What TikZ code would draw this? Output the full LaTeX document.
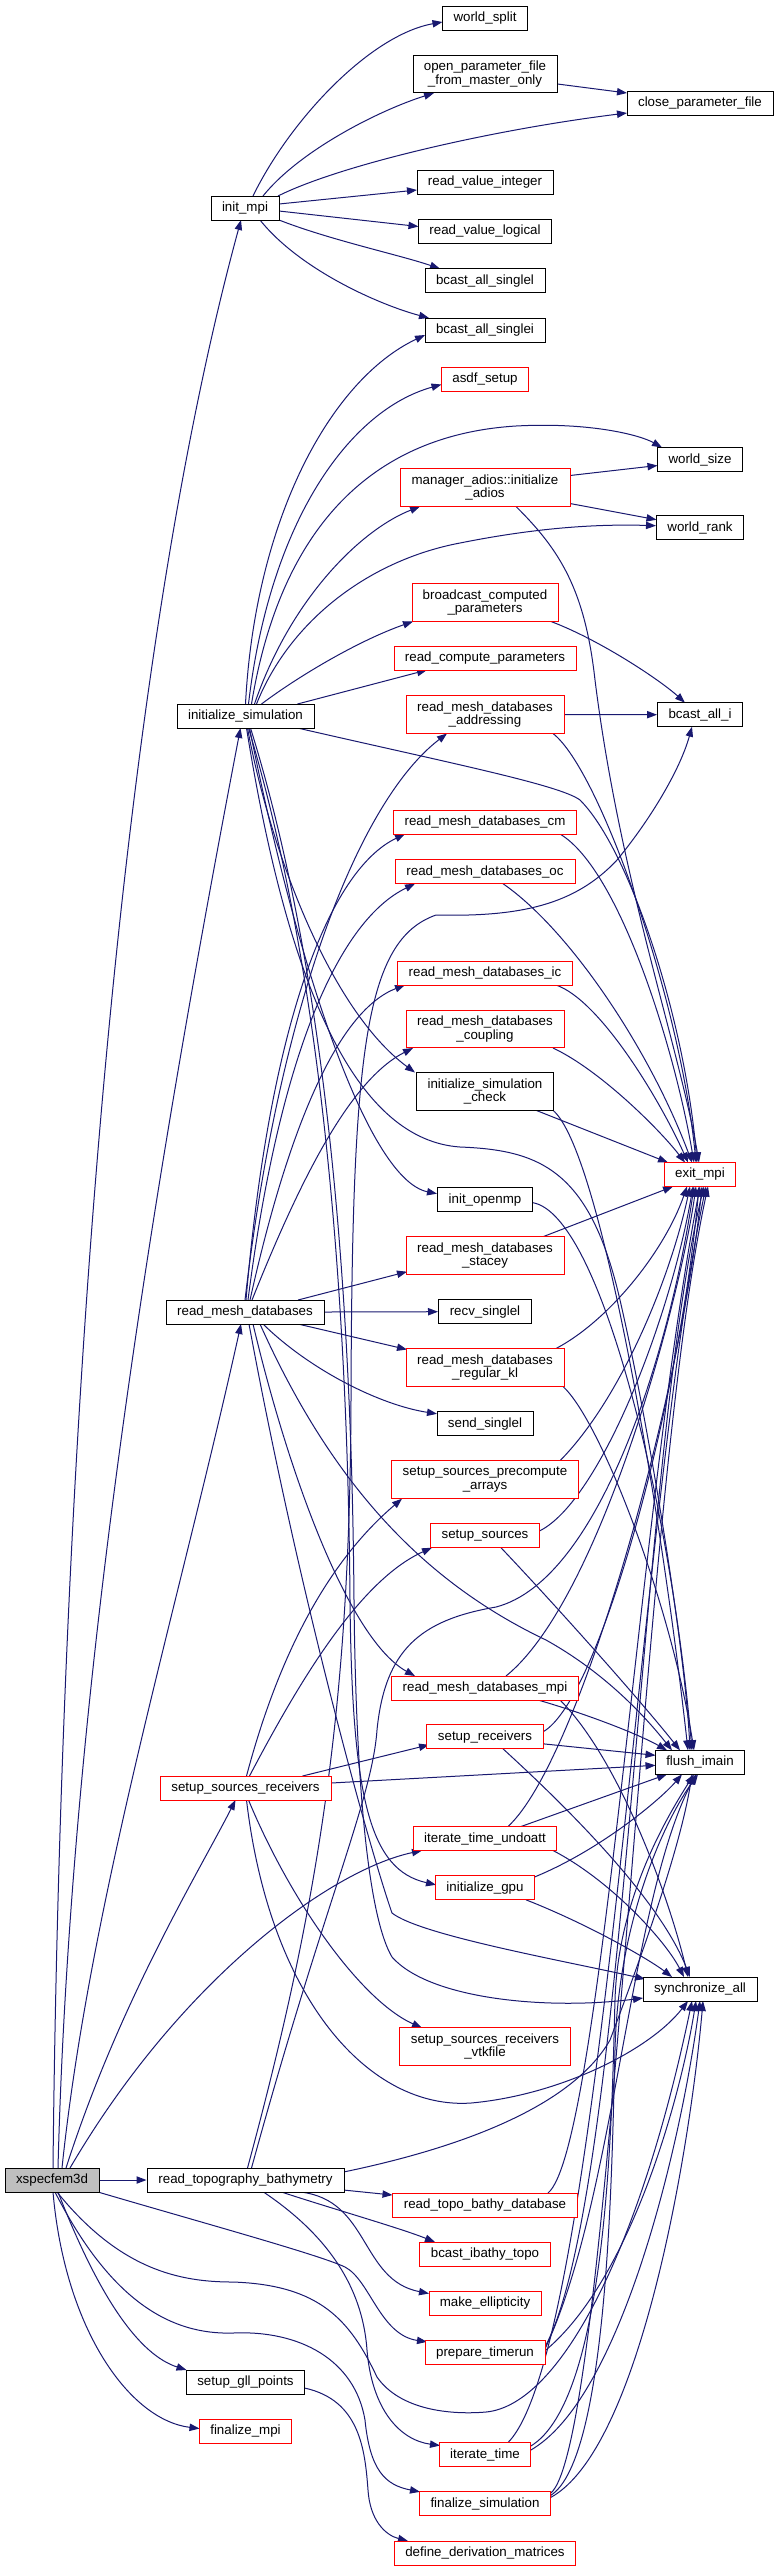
\documentclass[tikz,border=0pt]{standalone}
\usepackage{fontspec}
\setmainfont{Liberation Sans}
\usetikzlibrary{arrows.meta,calc,backgrounds}
\definecolor{eb}{HTML}{191970}
\definecolor{rootgray}{HTML}{BFBFBF}
\begin{document}
\begin{tikzpicture}[x=0.75pt,y=-0.75pt,
 fn/.style={draw=black,line width=0.75pt,fill=white,inner sep=0pt,minimum height=18pt,font=\fontsize{10}{10}\selectfont,align=center},
 rn/.style={fn,draw=red},
 tn/.style={fn,minimum height=28.2pt},
 rtn/.style={rn,minimum height=28.2pt},
 ed/.style={draw=eb,line width=0.75pt,-{Triangle[length=7.5pt,width=5.5pt]}}]
\useasboundingbox (0,0) rectangle (774,2571);
% column A/B
\node[fn,minimum width=70.5pt,fill=rootgray] (xs) at (52,2180) {xspecfem3d};
\node[fn,minimum width=51pt] (im) at (245,208) {init\_mpi};
\node[fn,minimum width=102.75pt] (is) at (245.5,716) {initialize\_simulation};
\node[fn,minimum width=118.5pt] (rmd) at (245,1312) {read\_mesh\_databases};
\node[rn,minimum width=128.25pt] (ssr) at (245.5,1788) {setup\_sources\_receivers};
\node[fn,minimum width=147.75pt] (rtb) at (245.5,2180) {read\_topography\_bathymetry};
\node[fn,minimum width=88.9pt] (sgp) at (245.5,2382) {setup\_gll\_points};
\node[rn,minimum width=69.5pt] (fmpi) at (245.5,2431.5) {finalize\_mpi};
% column C
\node[fn,minimum width=63.75pt] (ws) at (485,18) {world\_split};
\node[tn,minimum width=108pt] (opf) at (485,74) {open\_parameter\_file\\\_from\_master\_only};
\node[fn,minimum width=102pt] (rvi) at (485,182) {read\_value\_integer};
\node[fn,minimum width=99.75pt] (rvl) at (485,231.5) {read\_value\_logical};
\node[fn,minimum width=90pt] (bsl) at (485,280.7) {bcast\_all\_singlel};
\node[fn,minimum width=90pt] (bsi) at (485,330) {bcast\_all\_singlei};
\node[rn,minimum width=65.25pt] (asdf) at (485,379.5) {asdf\_setup};
\node[rtn,minimum width=127.5pt] (ma) at (485,487.5) {manager\_adios::initialize\\\_adios};
\node[rtn,minimum width=109.5pt] (bcp) at (485,602.5) {broadcast\_computed\\\_parameters};
\node[rn,minimum width=136.5pt] (rcp) at (485,658) {read\_compute\_parameters};
\node[rtn,minimum width=118.5pt] (addr) at (485,714.5) {read\_mesh\_databases\\\_addressing};
\node[rn,minimum width=137.25pt] (cm) at (485,822) {read\_mesh\_databases\_cm};
\node[rn,minimum width=135pt] (oc) at (485,871.7) {read\_mesh\_databases\_oc};
\node[rn,minimum width=131.25pt] (ic) at (485,973) {read\_mesh\_databases\_ic};
\node[rtn,minimum width=118.5pt] (coup) at (485,1029) {read\_mesh\_databases\\\_coupling};
\node[tn,minimum width=102.75pt] (isc) at (485,1091.3) {initialize\_simulation\\\_check};
\node[fn,minimum width=71.25pt] (iomp) at (485,1199.7) {init\_openmp};
\node[rtn,minimum width=118.5pt] (stac) at (485,1255.7) {read\_mesh\_databases\\\_stacey};
\node[fn,minimum width=69.75pt] (recv) at (485,1311.7) {recv\_singlel};
\node[rtn,minimum width=118.5pt] (rkl) at (485,1367.5) {read\_mesh\_databases\\\_regular\_kl};
\node[fn,minimum width=72pt] (send) at (485,1423.8) {send\_singlel};
\node[rtn,minimum width=140.25pt] (sspa) at (485,1479.7) {setup\_sources\_precompute\\\_arrays};
\node[rn,minimum width=81.4pt] (ss) at (485,1535.7) {setup\_sources};
\node[rn,minimum width=140.25pt] (mpi) at (485,1688) {read\_mesh\_databases\_mpi};
\node[rn,minimum width=87.4pt] (sr) at (485,1736.8) {setup\_receivers};
\node[rn,minimum width=107.6pt] (ituo) at (485,1838.5) {iterate\_time\_undoatt};
\node[rn,minimum width=74.6pt] (igpu) at (485,1887.8) {initialize\_gpu};
\node[rtn,minimum width=127.9pt] (vtk) at (485,2046.7) {setup\_sources\_receivers\\\_vtkfile};
\node[rn,minimum width=138.75pt] (rtbd) at (485,2205) {read\_topo\_bathy\_database};
\node[rn,minimum width=98.25pt] (bibt) at (485,2254) {bcast\_ibathy\_topo};
\node[rn,minimum width=84pt] (me) at (485,2303.5) {make\_ellipticity};
\node[rn,minimum width=90pt] (pt) at (485,2352.8) {prepare\_timerun};
\node[rn,minimum width=68.6pt] (it) at (485,2454.5) {iterate\_time};
\node[rn,minimum width=98.25pt] (fs) at (485,2503.8) {finalize\_simulation};
\node[rn,minimum width=136.1pt] (ddm) at (485,2553) {define\_derivation\_matrices};
% column D
\node[fn,minimum width=109.5pt] (cpf) at (700,103.5) {close\_parameter\_file};
\node[fn,minimum width=63.75pt] (wsz) at (700,459.5) {world\_size};
\node[fn,minimum width=65.25pt] (wr) at (700,527.7) {world\_rank};
\node[fn,minimum width=63.75pt] (bai) at (700,714.7) {bcast\_all\_i};
\node[rn,minimum width=53.25pt] (em) at (700,1174.5) {exit\_mpi};
\node[fn,minimum width=67.1pt] (fi) at (700,1762.3) {flush\_imain};
\node[fn,minimum width=85.5pt] (sa) at (700,1989) {synchronize\_all};
\begin{pgfonlayer}{background}
\fill[white] (0,0) rectangle (774,2571);
% init_mpi
\draw[ed] ($(im.center)+(8,-12)$) .. controls (290,120) and (370,35) .. ($(ws.center)+(-42.5,4)$);
\draw[ed] ($(im.center)+(18,-12)$) .. controls (300,150) and (380,110) .. ($(opf.center)+(-51,19)$);
\draw[ed] ($(im.center)+(33,-12)$) .. controls (340,165) and (490,130) .. ($(cpf.center)+(-73,9.5)$);
\draw[ed] ($(opf.center)+(72.5,10)$) -- ($(cpf.center)+(-73,-10.5)$);
\draw[ed] ($(im.center)+(34,-4)$) -- ($(rvi.center)+(-68,8)$);
\draw[ed] ($(im.center)+(34,3)$) -- ($(rvl.center)+(-66.5,-5)$);
\draw[ed] ($(im.center)+(34,12)$) .. controls (330,240) and (400,255) .. ($(bsl.center)+(-45,-12)$);
\draw[ed] ($(im.center)+(15,12)$) .. controls (300,270) and (380,305) .. ($(bsi.center)+(-56,-12)$);
% initialize_simulation
\draw[ed] ($(is.center)+(0,-12)$) .. controls (255,520) and (330,380) .. ($(bsi.center)+(-60,5)$);
\draw[ed] ($(is.center)+(3,-12)$) .. controls (270,520) and (350,410) .. ($(asdf.center)+(-43.5,5)$);
\draw[ed] ($(is.center)+(6,-12)$) .. controls (280,530) and (370,435) .. (516,426) .. controls (590,422) and (640,435) .. ($(wsz.center)+(-38,-12)$);
\draw[ed] ($(is.center)+(9,-12)$) .. controls (290,600) and (360,530) .. ($(ma.center)+(-65,19)$);
\draw[ed] ($(is.center)+(11,-12)$) .. controls (290,620) and (370,560) .. (460,543) .. controls (540,527) and (600,524) .. ($(wr.center)+(-44,-2)$);
\draw[ed] ($(is.center)+(16,-12)$) .. controls (300,675) and (360,640) .. ($(bcp.center)+(-72,19)$);
\draw[ed] ($(is.center)+(52,-12)$) -- ($(rcp.center)+(-58,12)$);
\draw[ed] ($(is.center)+(52,12)$) .. controls (450,763) and (560,785) .. (580,800) .. controls (630,850) and (685,1020) .. ($(em.center)+(-3,-12)$);
\draw[ed] ($(is.center)+(2,12)$) .. controls (270,850) and (330,1010) .. ($(isc.center)+(-70,-18.8)$);
\draw[ed] ($(is.center)+(4,12)$) .. controls (300,980) and (370,1180) .. ($(iomp.center)+(-48,-6)$);
\draw[ed] ($(is.center)+(1,12)$) .. controls (290,1000) and (360,1140) .. (460,1147) .. controls (540,1150) and (590,1170) .. (620,1300) .. controls (650,1430) and (685,1650) .. ($(fi.center)+(-10,-12)$);
\draw[ed] ($(is.center)+(3,12)$) .. controls (330,1000) and (348,1350) .. (350,1600) .. controls (352,1800) and (370,1870) .. ($(igpu.center)+(-49,-3)$);
\draw[ed] ($(is.center)+(5,12)$) .. controls (335,1000) and (352,1350) .. (354,1600) .. controls (356,1800) and (370,1920) .. (392,1957) .. controls (430,2000) and (550,2010) .. ($(sa.center)+(-57,9)$);
% xspecfem3d
\draw[ed] ($(xs.center)+(1,-12)$) .. controls (60,1500) and (110,700) .. ($(im.center)+(-4,12)$);
\draw[ed] ($(xs.center)+(6,-12)$) .. controls (70,1700) and (150,1200) .. ($(is.center)+(-5,12)$);
\draw[ed] ($(xs.center)+(10,-12)$) .. controls (90,1900) and (180,1600) .. ($(rmd.center)+(-4,12)$);
\draw[ed] ($(xs.center)+(14,-12)$) .. controls (120,2000) and (200,1870) .. ($(ssr.center)+(-10,12)$);
\draw[ed] ($(xs.center)+(18,-12)$) .. controls (180,1980) and (330,1870) .. ($(ituo.center)+(-63,12)$);
\draw[ed] (xs.east) -- (rtb.west);
\draw[ed] ($(xs.center)+(6,12)$) .. controls (100,2300) and (140,2355) .. ($(sgp.center)+(-59,-12)$);
\draw[ed] ($(xs.center)+(1,12)$) .. controls (65,2330) and (130,2420) .. ($(fmpi.center)+(-46,-3)$);
\draw[ed] ($(xs.center)+(46,12)$) .. controls (200,2222) and (320,2255) .. (345,2267) .. controls (370,2280) and (380,2335) .. ($(pt.center)+(-58,-11)$);
\draw[ed] ($(xs.center)+(5,12)$) .. controls (120,2270) and (180,2282) .. (233,2282) .. controls (320,2285) and (350,2320) .. (377,2377) .. controls (400,2410) and (450,2415) .. (486,2412) .. controls (560,2405) and (640,2250) .. ($(sa.center)+(-8,12)$);
\draw[ed] ($(xs.center)+(3,12)$) .. controls (110,2300) and (170,2335) .. (233,2333) .. controls (300,2330) and (355,2360) .. (365,2420) .. controls (370,2470) and (385,2485) .. ($(fs.center)+(-65,-12)$);
% read_topography_bathymetry
\draw[ed] ($(rtb.center)+(18,12)$) .. controls (320,2230) and (362,2280) .. (367,2350) .. controls (372,2410) and (400,2440) .. ($(it.center)+(-45,-9)$);
\draw[ed] ($(rtb.center)+(98,10)$) -- ($(rtbd.center)+(-92.5,-10)$);
\draw[ed] ($(rtb.center)+(36,12)$) .. controls (330,2208) and (400,2228) .. ($(bibt.center)+(-50,-12)$);
\draw[ed] ($(rtb.center)+(55,12)$) .. controls (370,2200) and (360,2280) .. ($(me.center)+(-56,-10)$);
\draw[ed] ($(rtb.center)+(98,-8)$) .. controls (450,2150) and (570,2110) .. (610,2040) .. controls (640,1960) and (680,1850) .. ($(fi.center)+(-8,12)$);
\draw[ed] ($(rtb.center)+(2,-12)$) .. controls (320,1900) and (350,1700) .. (351,1400) .. controls (352,1050) and (365,940) .. (436,915) .. controls (520,917) and (575,905) .. (617,860) .. controls (650,820) and (680,770) .. ($(bai.center)+(-8,12)$);
\draw[ed] ($(rtb.center)+(6,-12)$) .. controls (325,1900) and (372,1800) .. (377,1730) .. controls (385,1650) and (420,1620) .. (496,1607) .. controls (600,1580) and (670,1350) .. ($(em.center)+(-6,12)$);
% middle column to right column
\draw[ed] ($(ma.center)+(85,-12)$) -- ($(wsz.center)+(-42.5,6)$);
\draw[ed] ($(ma.center)+(85,16)$) -- ($(wr.center)+(-43.5,-8)$);
\draw[ed] ($(ma.center)+(31,19)$) .. controls (560,550) and (585,590) .. (595,680) .. controls (620,880) and (680,1050) .. ($(em.center)+(-1,-12)$);
\draw[ed] ($(bcp.center)+(66,19)$) .. controls (600,640) and (660,680) .. ($(bai.center)+(-15,-12)$);
\draw[ed] (addr.east) -- (bai.west);
\draw[ed] ($(addr.center)+(68,19)$) .. controls (600,770) and (680,1000) .. ($(em.center)+(-4,-12)$);
\draw[ed] ($(cm.center)+(75,12)$) .. controls (620,870) and (675,1050) .. ($(em.center)+(-6,-12)$);
\draw[ed] ($(oc.center)+(18,12)$) .. controls (570,930) and (650,1050) .. ($(em.center)+(-8,-12)$);
\draw[ed] ($(ic.center)+(71,12)$) .. controls (600,1000) and (660,1100) .. ($(em.center)+(-12,-12)$);
\draw[ed] ($(coup.center)+(68,19)$) .. controls (600,1070) and (660,1130) .. ($(em.center)+(-15,-12)$);
\draw[ed] ($(isc.center)+(51,19)$) -- ($(em.center)+(-32,-12)$);
\draw[ed] ($(isc.center)+(68,19)$) .. controls (600,1150) and (660,1500) .. ($(fi.center)+(-12,-12)$);
\draw[ed] ($(iomp.center)+(48,3)$) .. controls (600,1215) and (670,1500) .. ($(fi.center)+(-8,-12)$);
\draw[ed] ($(stac.center)+(58,-19)$) -- ($(em.center)+(-27,12)$);
\draw[ed] ($(rkl.center)+(71,-19)$) .. controls (610,1320) and (665,1250) .. ($(em.center)+(-13,12)$);
\draw[ed] ($(rkl.center)+(78,19)$) .. controls (600,1420) and (670,1600) .. ($(fi.center)+(-6,-12)$);
\draw[ed] ($(sspa.center)+(75,-19)$) .. controls (620,1400) and (670,1280) .. ($(em.center)+(-10,12)$);
\draw[ed] ($(ss.center)+(55,-5)$) .. controls (600,1500) and (670,1320) .. ($(em.center)+(-7,12)$);
\draw[ed] ($(ss.center)+(16,12)$) .. controls (560,1610) and (640,1700) .. ($(fi.center)+(-20,-12)$);
\draw[ed] ($(mpi.center)+(21,-12)$) .. controls (600,1600) and (680,1300) .. ($(em.center)+(-4,12)$);
\draw[ed] ($(mpi.center)+(53,12)$) .. controls (590,1715) and (640,1735) .. ($(fi.center)+(-33,-12)$);
\draw[ed] ($(mpi.center)+(75,12)$) .. controls (620,1760) and (670,1900) .. ($(sa.center)+(-12,-12)$);
\draw[ed] ($(sr.center)+(58,-5)$) .. controls (600,1700) and (680,1400) .. ($(em.center)+(-1,12)$);
\draw[ed] ($(sr.center)+(58,7)$) -- ($(fi.center)+(-44.5,-7)$);
\draw[ed] ($(sr.center)+(18,12)$) .. controls (570,1810) and (660,1900) .. ($(sa.center)+(-10,-12)$);
% setup_sources_receivers
\draw[ed] ($(ssr.center)+(85.5,-5)$) -- ($(fi.center)+(-44.5,3)$);
\draw[ed] ($(ssr.center)+(57,-12)$) -- ($(sr.center)+(-56,8)$);
\draw[ed] ($(ssr.center)+(1,-12)$) .. controls (280,1650) and (330,1560) .. ($(sspa.center)+(-83,19)$);
\draw[ed] ($(ssr.center)+(4,-12)$) .. controls (300,1680) and (360,1580) .. ($(ss.center)+(-53,12)$);
\draw[ed] ($(ssr.center)+(3,12)$) .. controls (290,1900) and (360,2000) .. ($(vtk.center)+(-63,-18.8)$);
\draw[ed] ($(ssr.center)+(1,12)$) .. controls (270,2000) and (370,2110) .. (471,2103) .. controls (560,2095) and (650,2050) .. ($(sa.center)+(-12,12)$);
% iterate_time_undoatt, initialize_gpu
\draw[ed] ($(ituo.center)+(23,-12)$) .. controls (580,1760) and (680,1400) .. ($(em.center)+(2,12)$);
\draw[ed] ($(ituo.center)+(36,-12)$) -- ($(fi.center)+(-33,12)$);
\draw[ed] ($(ituo.center)+(68,12)$) .. controls (610,1880) and (665,1940) .. ($(sa.center)+(-16,-12)$);
\draw[ed] ($(igpu.center)+(50,-11)$) .. controls (600,1850) and (660,1800) .. ($(fi.center)+(-18,12)$);
\draw[ed] ($(igpu.center)+(41,12)$) .. controls (590,1925) and (650,1960) .. ($(sa.center)+(-28,-12)$);
% read_mesh_databases
\draw[ed] ($(rmd.center)+(0,-12)$) .. controls (280,1000) and (360,800) .. ($(addr.center)+(-38,19)$);
\draw[ed] ($(rmd.center)+(1,-12)$) .. controls (270,1020) and (330,870) .. ($(cm.center)+(-80,12)$);
\draw[ed] ($(rmd.center)+(3,-12)$) .. controls (280,1050) and (340,920) .. ($(oc.center)+(-70,12)$);
\draw[ed] ($(rmd.center)+(5,-12)$) .. controls (290,1120) and (340,1010) .. ($(ic.center)+(-80,12)$);
\draw[ed] ($(rmd.center)+(7,-12)$) .. controls (300,1180) and (350,1080) .. ($(coup.center)+(-72,19)$);
\draw[ed] ($(rmd.center)+(53,-12)$) -- ($(stac.center)+(-78,16)$);
\draw[ed] (rmd.east) -- (recv.west);
\draw[ed] ($(rmd.center)+(53,12)$) -- ($(rkl.center)+(-78,-18)$);
\draw[ed] ($(rmd.center)+(18,12)$) .. controls (310,1370) and (380,1405) .. ($(send.center)+(-48,-10)$);
\draw[ed] ($(rmd.center)+(8,12)$) .. controls (290,1480) and (350,1640) .. ($(mpi.center)+(-70,-12)$);
\draw[ed] ($(rmd.center)+(15,12)$) .. controls (330,1480) and (420,1580) .. (546,1640) .. controls (600,1670) and (640,1710) .. ($(fi.center)+(-28,-12)$);
\draw[ed] ($(rmd.center)+(4,12)$) .. controls (300,1600) and (370,1850) .. (392,1913) .. controls (420,1935) and (560,1960) .. ($(sa.center)+(-55,-10)$);
% bottom
\draw[ed] ($(sgp.center)+(59,6)$) .. controls (360,2400) and (365,2450) .. (368,2490) .. controls (370,2520) and (385,2535) .. ($(ddm.center)+(-77,-12)$);
\draw[ed] ($(pt.center)+(60,-6)$) .. controls (625,2200) and (640,1450) .. ($(em.center)+(4,12)$);
\draw[ed] ($(pt.center)+(60,-4)$) .. controls (615,2200) and (630,1900) .. ($(fi.center)+(-4,12)$);
\draw[ed] ($(pt.center)+(60,-2)$) .. controls (630,2280) and (680,2100) .. ($(sa.center)+(-4,12)$);
\draw[ed] ($(it.center)+(23,-12)$) .. controls (600,2350) and (640,1500) .. ($(em.center)+(6,12)$);
\draw[ed] ($(it.center)+(45,-8)$) .. controls (610,2400) and (612,2100) .. (615,2000) .. controls (618,1900) and (665,1820) .. ($(fi.center)+(-6,12)$);
\draw[ed] ($(it.center)+(45,-4)$) .. controls (620,2400) and (680,2150) .. ($(sa.center)+(0,12)$);
\draw[ed] ($(fs.center)+(65,-10)$) .. controls (610,2450) and (640,1500) .. ($(em.center)+(8,12)$);
\draw[ed] ($(fs.center)+(65,-8)$) .. controls (610,2460) and (612,2150) .. (615,2050) .. controls (618,1920) and (665,1820) .. ($(fi.center)+(-2,12)$);
\draw[ed] ($(fs.center)+(65,-6)$) .. controls (640,2450) and (690,2150) .. ($(sa.center)+(3,12)$);
\draw[ed] ($(rtbd.center)+(63,-12)$) .. controls (600,2150) and (640,1500) .. ($(em.center)+(0,12)$);
\end{pgfonlayer}
\end{tikzpicture}
\end{document}
